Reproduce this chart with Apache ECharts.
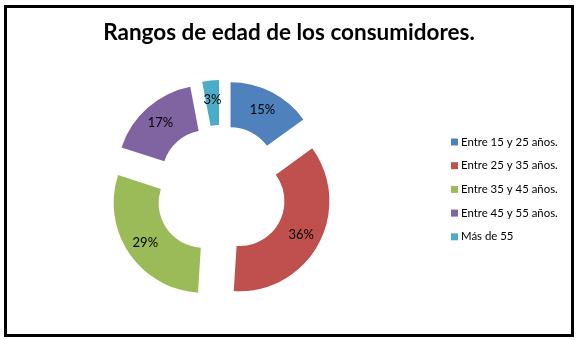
<!DOCTYPE html>
<html>
<head>
<meta charset="utf-8">
<script src="https://cdn.jsdelivr.net/npm/echarts@6/dist/echarts.min.js"></script>
<style>
html,body{margin:0;padding:0;background:#fff;}
#chart{width:578px;height:340px;}
</style>
</head>
<body>
<div id="chart"></div>
<script>
var titleText = 'Rangos de edad de los consumidores.';
var categories = ['Entre 15 y 25 años.', 'Entre 25 y 35 años.', 'Entre 35 y 45 años.', 'Entre 45 y 55 años.', 'Más de 55'];
var values = [15, 36, 29, 17, 3];
var colors = ['#4F81BD', '#C0504D', '#9BBB59', '#8064A2', '#4BACC6'];

var chart = echarts.init(document.getElementById('chart'), null, {renderer: 'canvas'});
var data = categories.map(function (c, i) {
  return {name: c, value: values[i], selected: true, itemStyle: {color: colors[i]}};
});
chart.setOption({
  animation: false,
  backgroundColor: '#ffffff',
  title: {
    text: titleText,
    left: 'center',
    top: 16,
    textStyle: {fontFamily: 'Lato', fontWeight: 'bold', fontSize: 22.5, color: '#000'}
  },
  legend: {
    orient: 'vertical',
    left: 446,
    top: 131,
    icon: 'rect',
    itemWidth: 7,
    itemHeight: 7,
    itemGap: 11.7,
    selectedMode: false,
    textStyle: {fontFamily: 'Lato', fontSize: 11.4, color: '#000', lineHeight: 12, padding: [0, 0, 0, -2]},
    data: categories
  },
  graphic: [{
    type: 'rect',
    shape: {x: 5.5, y: 6.5, width: 567, height: 329},
    style: {fill: 'none', stroke: '#000', lineWidth: 3},
    silent: true
  }],
  series: [{
    type: 'pie',
    center: [221, 191],
    radius: [45, 90],
    startAngle: 90,
    clockwise: true,
    selectedMode: 'multiple',
    selectedOffset: 21,
    avoidLabelOverlap: false,
    label: {
      show: true,
      position: 'inside',
      formatter: function (p) { return Math.round(p.percent) + '%'; },
      fontFamily: 'Lato',
      fontSize: 13,
      color: '#000'
    },
    labelLine: {show: false},
    emphasis: {disabled: true},
    select: {itemStyle: {borderWidth: 0}},
    itemStyle: {borderWidth: 0},
    data: data
  }]
});
</script>
</body>
</html>
